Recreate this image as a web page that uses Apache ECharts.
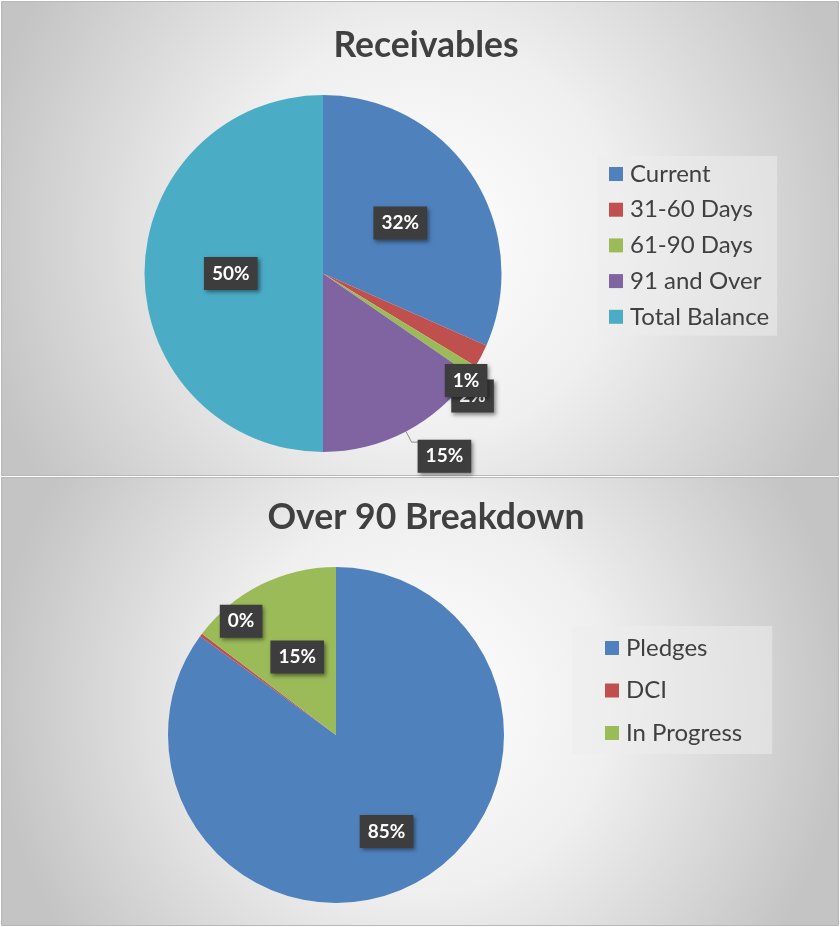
<!DOCTYPE html>
<html>
<head>
<meta charset="utf-8">
<script src="https://cdn.jsdelivr.net/npm/echarts@6/dist/echarts.min.js"></script>
<style>
html,body{margin:0;padding:0;background:#fff;}
#c{width:840px;height:927px;}
</style>
</head>
<body>
<div id="c"></div>
<script>
// ---- data ----
const recvCategories = ['Current', '31-60 Days', '61-90 Days', '91 and Over', 'Total Balance'];
const recvValues = [31.6, 2.1, 0.9, 15.4, 50.0];
const over90Categories = ['Pledges', 'DCI', 'In Progress'];
const over90Values = [85.0, 0.3, 14.7];
const titles = ['Receivables', 'Over 90 Breakdown'];

// ---- styles ----
const recvColors = ['#4F81BD', '#C0504D', '#9BBB59', '#8064A2', '#4BACC6'];
const over90Colors = ['#4F81BD', '#C0504D', '#9BBB59'];
const FONT = 'Lato';

const labelBox = {
  show: true,
  formatter: '{d}%',
  color: '#ffffff',
  fontFamily: FONT,
  fontWeight: 'bold',
  fontSize: 19,
  lineHeight: 19,
  backgroundColor: '#3d3d3d',
  padding: [7, 8, 7, 8],
  shadowColor: 'rgba(0,0,0,0.45)',
  shadowBlur: 4,
  shadowOffsetX: 2,
  shadowOffsetY: 2
};

// label nudges (dx, dy) per series / data index, to follow the reference placement
const nudges = {
  '0-1': [-35, 40],
  '0-2': [-33, 10],
  '0-3': [-7, 14],
  '1-1': [-25, -62],
  '1-0': [11, 19]
};

function bg(x, y, w, h) {
  return {
    type: 'rect', silent: true, z: -10,
    shape: { x: x, y: y, width: w, height: h },
    style: {
      fill: new echarts.graphic.RadialGradient(0.5, 0.5, 0.95, [
        { offset: 0, color: '#ffffff' },
        { offset: 0.45, color: '#efefef' },
        { offset: 1, color: '#c4c4c4' }
      ]),
      stroke: '#b8b8b8', lineWidth: 1
    }
  };
}

const chart = echarts.init(document.getElementById('c'), null, { renderer: 'canvas' });

const recvData = recvCategories.map((n, i) => {
  const d = { name: n, value: recvValues[i] };
  if (i === 1 || i === 2) {
    d.label = { position: 'outside' };
    d.labelLine = { show: false, length: 0, length2: 0 };
  } else if (i === 3) {
    d.label = { position: 'outside' };
    d.labelLine = { show: true, length: 12, length2: 8, lineStyle: { color: '#8c8c8c', width: 1 } };
  }
  return d;
});
const overData = over90Categories.map((n, i) => ({ name: n, value: over90Values[i] }));

const legendText = { fontFamily: FONT, fontSize: 24, lineHeight: 22, color: '#404040', padding: [0, 0, 0, 2] };

chart.setOption({
  animation: false,
  graphic: [bg(1.5, 1.5, 837, 474), bg(1.5, 477.5, 837, 448)],
  title: [
    { text: titles[0], left: 421, top: 23, textAlign: 'center',
      textStyle: { fontFamily: FONT, fontWeight: 'bold', fontSize: 35.5, color: '#404040' } },
    { text: titles[1], left: 421, top: 495, textAlign: 'center',
      textStyle: { fontFamily: FONT, fontWeight: 'bold', fontSize: 35.5, color: '#404040' } }
  ],
  legend: [
    {
      data: recvCategories, orient: 'vertical', left: 598, top: 156,
      icon: 'rect', itemWidth: 14, itemHeight: 14, itemGap: 11.7,
      padding: [6, 8, 7, 11],
      backgroundColor: 'rgba(236,236,236,0.55)',
      selectedMode: false,
      textStyle: legendText
    },
    {
      data: over90Categories, orient: 'vertical', left: 572, top: 626,
      icon: 'rect', itemWidth: 14, itemHeight: 14, itemGap: 18.5,
      padding: [10, 30, 9, 33],
      backgroundColor: 'rgba(236,236,236,0.55)',
      selectedMode: false,
      textStyle: legendText
    }
  ],
  series: [
    {
      type: 'pie', name: titles[0],
      center: [323, 273.5], radius: 178.5,
      startAngle: 90, clockwise: true,
      avoidLabelOverlap: false,
      percentPrecision: 0,
      color: recvColors,
      itemStyle: { borderWidth: 0 },
      label: Object.assign({ position: 'inside' }, labelBox),
      labelLine: { show: false },
      emphasis: { disabled: true },
      labelLayout: function (p) {
        const n = nudges[p.seriesIndex + '-' + p.dataIndex];
        return n ? { dx: n[0], dy: n[1], hideOverlap: false } : { hideOverlap: false };
      },
      data: recvData
    },
    {
      type: 'pie', name: titles[1],
      center: [336, 735], radius: 168,
      startAngle: 90, clockwise: true,
      avoidLabelOverlap: false,
      percentPrecision: 0,
      color: over90Colors,
      itemStyle: { borderWidth: 0 },
      label: Object.assign({ position: 'inside' }, labelBox),
      labelLine: { show: false },
      emphasis: { disabled: true },
      labelLayout: function (p) {
        const n = nudges[p.seriesIndex + '-' + p.dataIndex];
        return n ? { dx: n[0], dy: n[1], hideOverlap: false } : { hideOverlap: false };
      },
      data: overData
    }
  ]
});
</script>
</body>
</html>
